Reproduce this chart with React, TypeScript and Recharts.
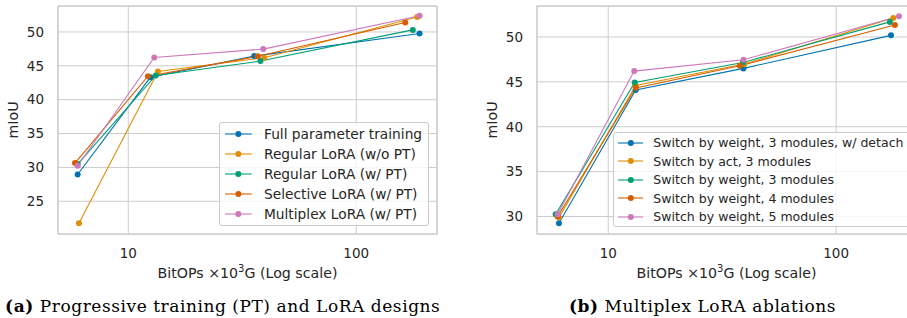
import {
  LineChart,
  Line,
  XAxis,
  YAxis,
  CartesianGrid,
  ReferenceArea,
  Legend,
  Label,
} from "recharts";

// seaborn "colorblind" palette
const palette = ["#0173b2", "#de8f05", "#029e73", "#d55e00", "#cc78bc"];

// (a) Progressive training (PT) and LoRA designs
const fullParamX = [6.0, 12.5, 35.7, 189.5];
const fullParamY = [28.96, 43.3, 46.43, 49.76];
const regularNoPtX = [6.08, 13.5, 39.5, 185];
const regularNoPtY = [21.77, 44.16, 46.2, 52.2];
const regularPtX = [6.0, 13.2, 38, 177];
const regularPtY = [30.5, 43.57, 45.7, 50.3];
const selectiveX = [5.84, 12.2, 37, 164];
const selectiveY = [30.64, 43.46, 46.4, 51.4];
const multiplexX = [6.0, 13.0, 39.1, 189.5];
const multiplexY = [30.24, 46.24, 47.47, 52.38];

// (b) Multiplex LoRA ablations
const detachX = [6.08, 13.2, 39.2, 174];
const detachY = [29.25, 44.1, 46.5, 50.18];
const actX = [6.08, 13.2, 39.6, 178];
const actY = [29.9, 44.6, 46.98, 52.12];
const weight3X = [5.88, 13.07, 39.0, 172];
const weight3Y = [30.26, 44.93, 47.16, 51.68];
const weight4X = [6.0, 13.2, 37.8, 181];
const weight4Y = [30.0, 44.33, 46.8, 51.34];
const weight5X = [6.0, 13.0, 39.2, 188.6];
const weight5Y = [30.26, 46.2, 47.46, 52.3];

const xTicks = [10, 100];
const yTicksA = [25, 30, 35, 40, 45, 50];
const yTicksB = [30, 35, 40, 45, 50];

type Series = { name: string; color: string; x: number[]; y: number[] };

const seriesA: Series[] = [
  { name: "Full parameter training", color: palette[0], x: fullParamX, y: fullParamY },
  { name: "Regular LoRA (w/o PT)", color: palette[1], x: regularNoPtX, y: regularNoPtY },
  { name: "Regular LoRA (w/ PT)", color: palette[2], x: regularPtX, y: regularPtY },
  { name: "Selective LoRA (w/ PT)", color: palette[3], x: selectiveX, y: selectiveY },
  { name: "Multiplex LoRA (w/ PT)", color: palette[4], x: multiplexX, y: multiplexY },
];

const seriesB: Series[] = [
  { name: "Switch by weight, 3 modules, w/ detach", color: palette[0], x: detachX, y: detachY },
  { name: "Switch by act, 3 modules", color: palette[1], x: actX, y: actY },
  { name: "Switch by weight, 3 modules", color: palette[2], x: weight3X, y: weight3Y },
  { name: "Switch by weight, 4 modules", color: palette[3], x: weight4X, y: weight4Y },
  { name: "Switch by weight, 5 modules", color: palette[4], x: weight5X, y: weight5Y },
];

const toRows = (s: Series) => s.x.map((x, i) => ({ x, y: s.y[i] }));

const TEXT = "#262626";
const GRID = "#cccccc";
const FONT = "'DejaVu Sans', sans-serif";

type LegendCfg = {
  left: number;
  top: number;
  width: number;
  height: number;
  rowH: number;
  padTop: number;
  iconLeft: number;
  iconW: number;
  gap: number;
  fontSize: number;
};

function LegendBox({ series, cfg }: { series: Series[]; cfg: LegendCfg }) {
  return (
    <div
      style={{
        boxSizing: "border-box",
        width: cfg.width,
        height: cfg.height,
        paddingTop: cfg.padTop,
        background: "rgba(255,255,255,0.8)",
        border: `1px solid ${GRID}`,
        borderRadius: 3,
        fontFamily: FONT,
        fontSize: cfg.fontSize,
        color: TEXT,
      }}
    >
      {series.map((s) => (
        <div
          key={s.name}
          style={{ height: cfg.rowH, display: "flex", alignItems: "center", whiteSpace: "nowrap" }}
        >
          <svg width={cfg.iconW} height={10} style={{ marginLeft: cfg.iconLeft, flex: "none" }}>
            <line x1={0} y1={5} x2={cfg.iconW} y2={5} stroke={s.color} strokeWidth={1.1} />
            <circle cx={cfg.iconW / 2} cy={5} r={3} fill={s.color} />
          </svg>
          <span style={{ marginLeft: cfg.gap }}>{s.name}</span>
        </div>
      ))}
    </div>
  );
}

function Panel({
  series,
  xDomain,
  yDomain,
  yTicks,
  legend,
}: {
  series: Series[];
  xDomain: [number, number];
  yDomain: [number, number];
  yTicks: number[];
  legend: LegendCfg;
}) {
  const tick = { fill: TEXT, fontSize: 13.5, fontFamily: FONT };
  return (
    <LineChart width={460} height={290} margin={{ top: 6, right: 23, bottom: 0, left: 0 }}>
      <CartesianGrid stroke={GRID} strokeWidth={1} />
      <ReferenceArea
        x1={xDomain[0]}
        x2={xDomain[1]}
        y1={yDomain[0]}
        y2={yDomain[1]}
        fill="none"
        fillOpacity={0}
        stroke={GRID}
        strokeWidth={1.25}
        ifOverflow="visible"
      />
      <XAxis
        type="number"
        dataKey="x"
        scale="log"
        domain={xDomain}
        ticks={xTicks}
        allowDataOverflow
        axisLine={false}
        tickLine={false}
        tickSize={0}
        tickMargin={14}
        height={56}
        tick={tick}
      >
        <Label
          content={(props: any) => {
            const vb = props.viewBox || {};
            const cx = vb.width ? vb.x + vb.width / 2 : 247.5;
            const y = vb.y !== undefined ? vb.y + 43.8 : 277.8;
            return (
              <text x={cx} y={y} textAnchor="middle" fill={TEXT} fontSize={14.2} fontFamily={FONT}>
                <tspan>BitOPs ×10</tspan>
                <tspan dy={-5.5} fontSize={10}>3</tspan>
                <tspan dy={5.5}>G (Log scale)</tspan>
              </text>
            );
          }}
        />
      </XAxis>
      <YAxis
        type="number"
        domain={yDomain}
        ticks={yTicks}
        allowDataOverflow
        axisLine={false}
        tickLine={false}
        tickSize={0}
        tickMargin={14}
        width={58}
        tick={tick}
      >
        <Label
          content={() => (
            <text
              x={13}
              y={120}
              transform="rotate(-90, 13, 120)"
              textAnchor="middle"
              dominantBaseline="central"
              fill={TEXT}
              fontSize={14.2}
              fontFamily={FONT}
            >
              mIoU
            </text>
          )}
        />
      </YAxis>
      {series.map((s) => (
        <Line
          key={s.name}
          data={toRows(s)}
          dataKey="y"
          name={s.name}
          stroke={s.color}
          strokeWidth={1.1}
          dot={{ r: 3, fill: s.color, stroke: s.color, strokeWidth: 0 }}
          activeDot={false}
          isAnimationActive={false}
        />
      ))}
      <Legend
        layout="vertical"
        align="center"
        verticalAlign="middle"
        wrapperStyle={{ left: legend.left, top: legend.top, width: legend.width, height: legend.height }}
        content={() => <LegendBox series={series} cfg={legend} />}
      />
    </LineChart>
  );
}

const captionStyle = {
  position: "absolute" as const,
  top: 295.5,
  width: 520,
  lineHeight: "20px",
  textAlign: "center" as const,
  fontFamily: "'DejaVu Serif', serif",
  fontSize: 17,
  letterSpacing: 0.55,
  whiteSpace: "nowrap" as const,
  color: "#000",
};

export default function App() {
  return (
    <div
      style={{
        position: "fixed",
        left: 0,
        top: 0,
        width: 907,
        height: 318,
        overflow: "hidden",
        background: "#fff",
      }}
    >
      <div style={{ position: "absolute", left: 0, top: 0 }}>
        <Panel
          series={seriesA}
          xDomain={[4.92, 226]}
          yDomain={[20.17, 53.83]}
          yTicks={yTicksA}
          legend={{
            left: 219.3,
            top: 121.7,
            width: 209.7,
            height: 104.3,
            rowH: 20.1,
            padTop: 0.8,
            iconLeft: 4.7,
            iconW: 26.7,
            gap: 12.3,
            fontSize: 13.75,
          }}
        />
      </div>
      <div style={{ position: "absolute", left: 479.3, top: 0 }}>
        <Panel
          series={seriesB}
          xDomain={[4.87, 224]}
          yDomain={[28.05, 53.45]}
          yTicks={yTicksB}
          legend={{
            left: 133.4,
            top: 131.7,
            width: 300,
            height: 95.6,
            rowH: 18.5,
            padTop: 0.6,
            iconLeft: 4,
            iconW: 25.6,
            gap: 10,
            fontSize: 12.56,
          }}
        />
      </div>
      <div style={{ ...captionStyle, left: 222.7 - 260 }}>
        <b>(a)</b> Progressive training (PT) and LoRA designs
      </div>
      <div style={{ ...captionStyle, left: 702.5 - 260 }}>
        <b>(b)</b> Multiplex LoRA ablations
      </div>
    </div>
  );
}
